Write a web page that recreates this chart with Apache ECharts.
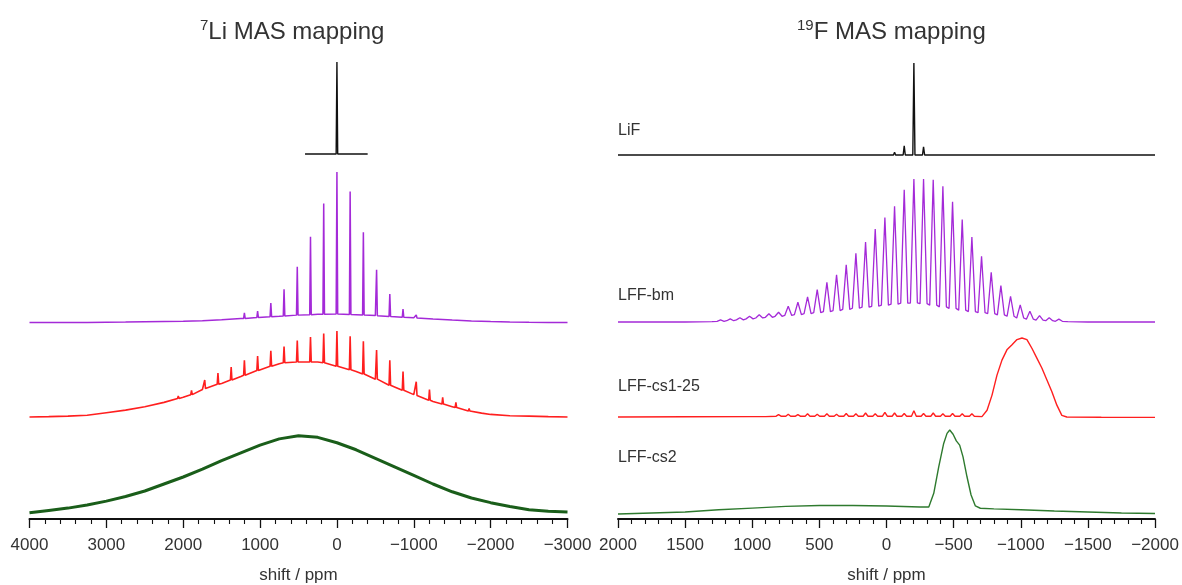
<!DOCTYPE html>
<html>
<head>
<meta charset="utf-8">
<script src="https://cdn.jsdelivr.net/npm/echarts@6/dist/echarts.min.js"></script>
<style>
html, body { margin: 0; padding: 0; background: #fff; }
#chart { width: 1182px; height: 585px; }
</style>
</head>
<body>
<div id="chart"></div>
<script>
// ---- 7Li 谱 (相对强度，从图上读的) ----
const liHumpPpm = [4000, 3750, 3500, 3250, 3000, 2750, 2500, 2250, 2000, 1750, 1500, 1250, 1000, 750, 500, 250, 0,
  -250, -500, -750, -1000, -1250, -1500, -1750, -2000, -2250, -2500, -2750, -3000]
const liBmHump = [0, 0, 0, 0, 0.2, 0.3, 0.5, 0.7, 0.9, 1.2, 1.8, 2.6, 3.4, 4.2, 4.9, 5.4, 5.6,
  5.2, 4.6, 3.9, 3.1, 2.3, 1.6, 1.0, 0.6, 0.3, 0.1, 0, 0]
const liCs1Hump = [0, 0.4, 1, 2, 5, 8, 12, 17, 23, 32, 39, 47, 55, 62, 64, 64, 59,
  53, 44, 35, 26, 18, 12, 6, 3, 1.5, 1, 0.4, 0]
const liCs2Hump = [0, 3, 6, 10, 15, 21, 28, 37, 46, 56, 67, 77, 87, 95, 99, 97, 90,
  81, 70, 59, 48, 37, 27, 19, 13, 8, 4, 2, 1]

// 边带
const liBmSb = [1204, 1032, 860, 688, 516, 344, 172, 0, -172, -344, -516, -688, -860, -1032]
const liBmTop = [6.4, 7.5, 13, 22, 37, 57, 79, 100, 87, 60, 35, 19, 9, 5]
const liBmFoot = [2.7, 3.3, 3.9, 4.4, 4.9, 5.2, 5.5, 5.6, 5.3, 5.0, 4.5, 4.0, 3.5, 3.0]

const liCs1Sb = [2064, 1892, 1720, 1548, 1376, 1204, 1032, 860, 688, 516, 344, 172, 0,
  -172, -344, -516, -688, -860, -1032, -1204, -1376, -1548, -1720, -1892]
const liCs1Top = [24.5, 31, 43, 51, 58, 66, 71, 77, 82, 89, 93, 97, 100,
  94, 88, 78, 66, 53, 41, 32, 23, 17, 10, 5.5]
const liCs1Foot = [21.5, 26, 33, 38, 43, 48.5, 54, 59, 63, 64, 64, 63, 59,
  55, 50, 44, 37, 31, 25, 19.5, 15, 11, 7, 4.5]

const liLifPpm = [415, -400]
const liLifBase = [0, 0]
const liLifSb = [285, 0]
const liLifTop = [2, 100]
const liLifFoot = [0, 0]

// ---- 19F 谱 ----
const fLifPpm = [2000, -2000]
const fLifBase = [0, 0]
const fLifSb = [-60, -132, -204, -276, -348]
const fLifTop = [3, 10, 100, 9, 2]
const fLifFoot = [0, 0, 0, 0, 0]

const fBmPpm = [2000, 1500, 1300, -1350, -1500, -2000]
const fBmBase = [0, 0, 0.2, 0.2, 0, 0]
const fBmSb = [1236, 1164, 1092, 1020, 948, 876, 804, 732, 660, 588, 516, 444, 372, 300, 228, 156, 84, 12,
  -60, -132, -204, -276, -348, -420, -492, -564, -636, -708, -780, -852, -924, -996, -1068, -1140, -1212, -1284]
const fBmTop = [1.5, 2.2, 3, 4, 5.1, 5.8, 6.8, 11, 13.8, 17.5, 22.6, 27.7, 33, 40, 48, 56, 65, 73,
  81, 92.5, 100, 100, 99.5, 95, 84, 71.6, 59.4, 46, 34.7, 25.4, 18, 12, 7.5, 4.4, 3, 2]
const fBmFoot = [0.5, 0.9, 1.5, 2.2, 2.8, 3.3, 4, 4.6, 5.2, 5.8, 6.5, 7.3, 8, 8.8, 9.6, 10.4, 11, 11.8,
  12.5, 13.2, 13.3, 12.8, 11.8, 10.6, 9.5, 8.3, 7.3, 6.5, 5.9, 5, 4, 2.8, 2, 1.3, 0.9, 0.5]

const fCs1Ppm = [2000, 1500, 1000, 900, 700, -500, -711, -749, -786, -823, -860, -897, -935, -972, -1009,
  -1046, -1083, -1120, -1158, -1195, -1232, -1269, -1306, -1343, -1600, -2000]
const fCs1Val = [0, 0.3, 0.5, 0.5, 1, 1, 0.5, 8.5, 27.7, 53, 72, 85, 91.5, 98, 100,
  98, 87, 74.5, 61.7, 46.8, 32, 15, 2, 0, -0.3, -0.5]
const fCs1Sb = [804, 732, 660, 588, 516, 444, 372, 300, 228, 156, 84, 12, -60, -132, -204, -276, -348, -420, -492, -564, -636]
const fCs1Top = [3, 3.5, 3, 4, 3.5, 4, 3.5, 4.5, 4, 5, 4, 6, 5, 4.5, 8, 4.5, 5, 4, 4.5, 4, 4]
const fCs1Foot = [1, 1, 1, 1, 1, 1, 1, 1, 1, 1, 1, 1, 1, 1, 1, 1, 1, 1, 1, 1, 1]

const fCs2Ppm = [2000, 1750, 1500, 1250, 1000, 750, 500, 250, 0, -250, -315, -352, -389, -426, -451, -471,
  -496, -520, -545, -570, -600, -630, -662, -699, -800, -1000, -1250, -1500, -1750, -2000]
const fCs2Val = [0, 1.2, 2.4, 5, 7, 9, 10, 10, 9.5, 8.3, 8.3, 24.6, 56, 84, 96, 100,
  95, 87, 82, 68, 44, 22.6, 9.5, 6.8, 6, 5, 3.6, 2.4, 1.2, 0.6]

const liTicks = { min: -3000, max: 4000, interval: 1000 }
const fTicks = { min: -2000, max: 2000, interval: 500 }

// 把底线点和边带(三角形尖峰)合在一起
function buildTrace(ppm, val, sb, top, foot, hw) {
  const pts = []
  ppm.forEach((p, i) => {
    if (sb && sb.some(s => Math.abs(s - p) < hw)) return
    pts.push([p, val[i]])
  })
  if (sb) {
    sb.forEach((p, i) => {
      pts.push([p + hw, foot[i]], [p, top[i]], [p - hw, foot[i]])
    })
  }
  pts.sort((a, b) => b[0] - a[0])
  return pts
}

const PURPLE = '#a42ad8'
const RED = '#ff1f1f'
const GREEN = '#1a5e1a'
const BLACK = '#111'

// 每条谱一个 grid
const layout = [
  { left: 29.5, width: 538, top: 62, height: 92, yMin: 0 },
  { left: 29.5, width: 538, top: 172, height: 150.5, yMin: 0 },
  { left: 29.5, width: 538, top: 331, height: 86, yMin: 0 },
  { left: 29.5, width: 538, top: 435, height: 84, yMin: -8 },
  { left: 618, width: 537, top: 63, height: 92, yMin: 0 },
  { left: 618, width: 537, top: 179, height: 143, yMin: 0 },
  { left: 618, width: 537, top: 338, height: 79, yMin: 0 },
  { left: 618, width: 537, top: 430, height: 89, yMin: -6 }
]

const traces = [
  { data: buildTrace(liLifPpm, liLifBase, liLifSb, liLifTop, liLifFoot, 10), color: BLACK, width: 1.4 },
  { data: buildTrace(liHumpPpm, liBmHump, liBmSb, liBmTop, liBmFoot, 10), color: PURPLE, width: 1.5 },
  { data: buildTrace(liHumpPpm, liCs1Hump, liCs1Sb, liCs1Top, liCs1Foot, 10), color: RED, width: 1.6 },
  { data: buildTrace(liHumpPpm, liCs2Hump), color: GREEN, width: 3 },
  { data: buildTrace(fLifPpm, fLifBase, fLifSb, fLifTop, fLifFoot, 8), color: BLACK, width: 1.4 },
  { data: buildTrace(fBmPpm, fBmBase, fBmSb, fBmTop, fBmFoot, 26), color: PURPLE, width: 1.3 },
  { data: buildTrace(fCs1Ppm, fCs1Val, fCs1Sb, fCs1Top, fCs1Foot, 18), color: RED, width: 1.4 },
  { data: buildTrace(fCs2Ppm, fCs2Val), color: '#2e7a2e', width: 1.4 }
]

const axisFont = 'Liberation Sans, Arial, sans-serif'
const textColor = '#333'

function xAxisFor(i) {
  const t = i < 4 ? liTicks : fTicks
  const bottom = i === 3 || i === 7
  return {
    type: 'value',
    gridIndex: i,
    min: t.min,
    max: t.max,
    interval: t.interval,
    inverse: true,
    show: bottom,
    name: bottom ? 'shift / ppm' : '',
    nameLocation: 'middle',
    nameGap: 48,
    nameTextStyle: { fontSize: 17, color: textColor, fontFamily: axisFont },
    axisLine: { show: true, onZero: false, lineStyle: { color: '#111', width: 2 } },
    axisTick: { show: true, length: 9, lineStyle: { color: '#111', width: 1.3 } },
    minorTick: { show: true, splitNumber: 5, length: 5, lineStyle: { color: '#111', width: 1.1 } },
    axisLabel: {
      fontSize: 17,
      color: textColor,
      fontFamily: axisFont,
      margin: 18,
      formatter: v => String(v).replace('-', '\u2212')
    },
    splitLine: { show: false }
  }
}

function titleText(sup, main) {
  return {
    text: '{sup|' + sup + '}{main|' + main + '}',
    textStyle: {
      fontWeight: 'normal',
      rich: {
        sup: { fontSize: 15, color: textColor, fontFamily: axisFont, verticalAlign: 'top', lineHeight: 28 },
        main: { fontSize: 24, color: textColor, fontFamily: axisFont, lineHeight: 28 }
      }
    }
  }
}

function label(text, top) {
  return { text, left: 613, top, textStyle: { fontSize: 16, fontWeight: 'normal', color: textColor, fontFamily: axisFont } }
}

const chart = echarts.init(document.getElementById('chart'))

const option = {
  animation: false,
  backgroundColor: '#fff',
  title: [
    Object.assign(titleText('7', 'Li MAS mapping'), { left: 195, top: 13 }),
    Object.assign(titleText('19', 'F MAS mapping'), { left: 792, top: 13 }),
    label('LiF', 118),
    label('LFF-bm', 283),
    label('LFF-cs1-25', 374),
    label('LFF-cs2', 445)
  ],
  // 关掉自动收缩, grid 按给定像素放
  grid: layout.map(g => ({ left: g.left, width: g.width, top: g.top, height: g.height, containLabel: false, outerBoundsMode: 'none' })),
  xAxis: layout.map((g, i) => xAxisFor(i)),
  yAxis: layout.map((g, i) => ({ type: 'value', gridIndex: i, min: g.yMin, max: 100, show: false })),
  series: traces.map((t, i) => ({
    type: 'line',
    xAxisIndex: i,
    yAxisIndex: i,
    data: t.data,
    showSymbol: false,
    clip: false,
    lineStyle: { color: t.color, width: t.width },
    itemStyle: { color: t.color }
  }))
}

chart.setOption(option)
</script>
</body>
</html>
